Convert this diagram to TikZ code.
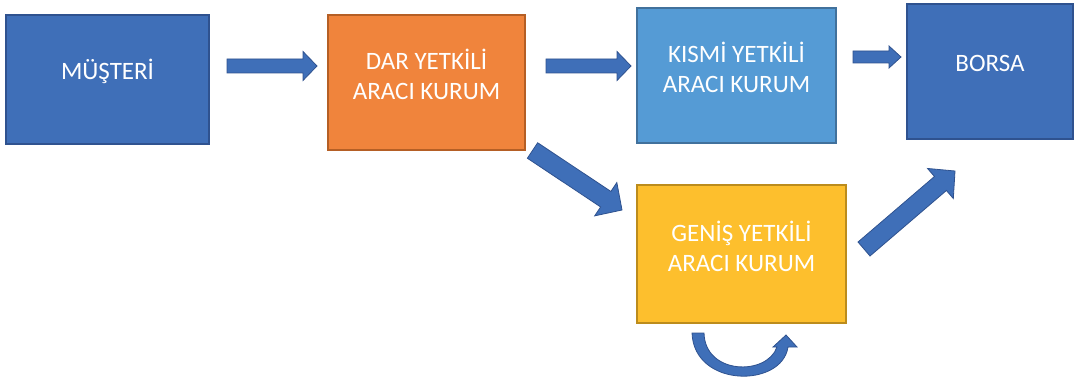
\documentclass[tikz,border=0pt]{standalone}
\usepackage{fontspec}
\setmainfont{Carlito}
\usetikzlibrary{calc}
\definecolor{cblue}{HTML}{3F6FB8}
\definecolor{cblueb}{HTML}{2F528F}
\definecolor{corange}{HTML}{F0843C}
\definecolor{corangeb}{HTML}{B55F25}
\definecolor{clblue}{HTML}{559BD5}
\definecolor{clblueb}{HTML}{41719C}
\definecolor{cyellow}{HTML}{FDBF2D}
\definecolor{cyellowb}{HTML}{BC8C1C}
\tikzset{
  boxnode/.style={rectangle, line width=1.2pt, inner sep=0pt},
  lbl/.style={text=white, font=\fontsize{25}{30}\selectfont, align=center, inner sep=0pt},
  barrowstyle/.style={fill=cblue, draw=cblueb, line width=0.8pt, line join=miter}
}
\newcommand\blockarrow[5]{%
  \draw[barrowstyle] ($(#1)!#3!90:(#2)$) -- ($(#2)!#5!(#1)!#3!-90:(#1)$) -- ($(#2)!#5!(#1)!#4!-90:(#1)$) -- (#2) -- ($(#2)!#5!(#1)!#4!90:(#1)$) -- ($(#2)!#5!(#1)!#3!90:(#1)$) -- ($(#1)!#3!-90:(#2)$) -- cycle;}
\begin{document}
\begin{tikzpicture}[x=1pt,y=-1pt]
\useasboundingbox (0,0) rectangle (1075,382);
% boxes
\node[boxnode, fill=cblue, draw=cblueb, minimum width=203pt, minimum height=129pt] (mus) at (107.5,79.5) {};
\node[boxnode, fill=corange, draw=corangeb, minimum width=197pt, minimum height=135pt] (dar) at (426.5,82.5) {};
\node[boxnode, fill=clblue, draw=clblueb, minimum width=199pt, minimum height=135pt] (kis) at (736.5,75.5) {};
\node[boxnode, fill=cblue, draw=cblueb, minimum width=166pt, minimum height=135pt] (bor) at (990,71.5) {};
\node[boxnode, fill=cyellow, draw=cyellowb, minimum width=209pt, minimum height=138pt] (gen) at (741.5,254) {};
% labels
\node[lbl] (musl) at ([yshift=8pt]mus.center) {MÜŞTERİ};
\node[lbl] (darl) at ([yshift=8pt]dar.center) {DAR YETKİLİ\\ARACI KURUM};
\node[lbl] (kisl) at ([yshift=8pt]kis.center) {KISMİ YETKİLİ\\ARACI KURUM};
\node[lbl] (borl) at ([yshift=8pt]bor.center) {BORSA};
\node[lbl] (genl) at ([yshift=8pt]gen.center) {GENİŞ YETKİLİ\\ARACI KURUM};
% arrow end points
\coordinate (a1s) at (227,66);  \coordinate (a1e) at (317,66);
\coordinate (a2s) at (546,66);  \coordinate (a2e) at (631,66);
\coordinate (a3s) at (853,57);  \coordinate (a3e) at (901,57);
\coordinate (a4s) at (532.5,150.5); \coordinate (a4e) at (622,210);
\coordinate (a5s) at (864,249); \coordinate (a5e) at (955,171);
\blockarrow{a1s}{a1e}{7pt}{14.5pt}{14pt}
\blockarrow{a2s}{a2e}{7pt}{14.5pt}{14pt}
\blockarrow{a3s}{a3e}{6pt}{11pt}{12pt}
\blockarrow{a4s}{a4e}{9.3pt}{20pt}{19.5pt}
\blockarrow{a5s}{a5e}{9.2pt}{19.8pt}{19.2pt}
% curved self arrow below GENİŞ
\draw[barrowstyle] (692,333) .. controls (694,388) and (782,388) .. (788,347) -- (797,347) -- (786,335) -- (773,347) -- (777,347) .. controls (767,376) and (705,375) .. (704,333) -- cycle;
\end{tikzpicture}
\end{document}
